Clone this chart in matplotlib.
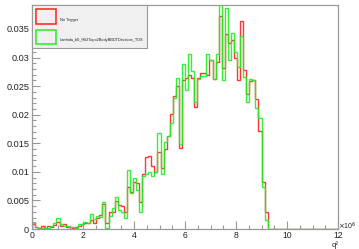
import numpy as np
import matplotlib
matplotlib.use("Agg")
import matplotlib.pyplot as plt
from matplotlib.patches import Rectangle
from matplotlib.ticker import MultipleLocator

# ===============================
# DATA (normalised q^2 distributions, x in units of 1e6)
# ===============================
X_MIN, X_MAX, N_BINS = 0.0, 12.0, 100

# "Lambda_b0_Hlt2Topo2BodyBBDTDecision_TOS" (green), bins 0..76, rest empty
tos_vals = [
    0.0012, 0.0003, 0.0000, 0.0002, 0.0002, 0.0002, 0.0005, 0.0010, 0.0019, 0.0008,
    0.0005, 0.0005, 0.0004, 0.0004, 0.0001, 0.0008, 0.0008, 0.0012, 0.0010, 0.0026,
    0.0017, 0.0023, 0.0021, 0.0048, 0.0002, 0.0022, 0.0037, 0.0056, 0.0033, 0.0030,
    0.0019, 0.0103, 0.0063, 0.0089, 0.0068, 0.0030, 0.0093, 0.0096, 0.0100, 0.0092,
    0.0100, 0.0168, 0.0097, 0.0153, 0.0163, 0.0185, 0.0229, 0.0265, 0.0148, 0.0289,
    0.0243, 0.0307, 0.0277, 0.0223, 0.0263, 0.0268, 0.0268, 0.0307, 0.0296, 0.0263,
    0.0307, 0.0410, 0.0261, 0.0386, 0.0296, 0.0343, 0.0310, 0.0284, 0.0337, 0.0266,
    0.0223, 0.0263, 0.0260, 0.0211, 0.0194, 0.0074, 0.0015,
]

# "No Trigger" (red)
notrig_vals = [
    0.0008, 0.0003, 0.0002, 0.0005, 0.0002, 0.0005, 0.0003, 0.0007, 0.0013, 0.0006,
    0.0009, 0.0004, 0.0004, 0.0002, 0.0003, 0.0006, 0.0008, 0.0011, 0.0011, 0.0016,
    0.0011, 0.0019, 0.0024, 0.0044, 0.0010, 0.0029, 0.0030, 0.0049, 0.0042, 0.0040,
    0.0030, 0.0074, 0.0064, 0.0083, 0.0080, 0.0047, 0.0096, 0.0126, 0.0127, 0.0110,
    0.0100, 0.0135, 0.0106, 0.0140, 0.0163, 0.0201, 0.0232, 0.0250, 0.0142, 0.0261,
    0.0264, 0.0270, 0.0265, 0.0214, 0.0265, 0.0273, 0.0273, 0.0270, 0.0295, 0.0263,
    0.0293, 0.0373, 0.0281, 0.0342, 0.0326, 0.0331, 0.0300, 0.0261, 0.0364, 0.0278,
    0.0237, 0.0259, 0.0260, 0.0227, 0.0172, 0.0083, 0.0030,
]

legend_labels = ["No Trigger", "Lambda_b0_Hlt2Topo2BodyBBDTDecision_TOS"]

y_ticks = [0, 0.005, 0.01, 0.015, 0.02, 0.025, 0.03, 0.035]
y_tick_labels = ["0", "0.005", "0.01", "0.015", "0.02", "0.025", "0.03", "0.035"]
x_ticks = [0, 2, 4, 6, 8, 10, 12]

# ===============================
# PLOT
# ===============================
W, H = 359, 249
plt.rcParams['font.family'] = ['Liberation Sans', 'DejaVu Sans']

fig = plt.figure(figsize=(W / 100, H / 100), dpi=100)
ax = fig.add_axes([32 / W, 1 - 229 / H, 306 / W, 224 / H])

edges = np.linspace(X_MIN, X_MAX, N_BINS + 1)
tos = np.zeros(N_BINS)
tos[:len(tos_vals)] = tos_vals
notrig = np.zeros(N_BINS)
notrig[:len(notrig_vals)] = notrig_vals

ax.stairs(notrig, edges, color='#ff2020', lw=1.0, alpha=0.9)
ax.stairs(tos, edges, color='#22ee22', lw=1.0, alpha=0.9)

ax.set_xlim(X_MIN, X_MAX)
ax.set_ylim(0, 0.0392)

ax.set_yticks(y_ticks)
ax.set_yticklabels(y_tick_labels)
ax.set_xticks(x_ticks)
ax.yaxis.set_minor_locator(MultipleLocator(0.001))
ax.xaxis.set_minor_locator(MultipleLocator(0.5))

for s in ax.spines.values():
    s.set_color('#999999')
    s.set_linewidth(0.9)

ax.tick_params(which='both', direction='in', colors='#999999', labelcolor='#222222',
               top=False, right=False, width=0.8)
ax.tick_params(axis='y', which='major', length=6, labelsize=6.6, pad=2)
ax.tick_params(axis='y', which='minor', length=3)
ax.tick_params(axis='x', which='major', length=6, labelsize=6.2, pad=1.2)
ax.tick_params(axis='x', which='minor', length=3)

fig.text(338 / W, 1 - 226 / H, r"$\times$10$^{6}$", fontsize=5, ha='left', va='center',
         color='#222222')
fig.text(338 / W, 1 - 248.5 / H, "q\u00b2", fontsize=5.5, ha='right', va='bottom',
         color='#222222')

# legend box (ROOT style)
def fig_rect(x0, y0, x1, y1, **kw):
    return Rectangle((x0 / W, 1 - y1 / H), (x1 - x0) / W, (y1 - y0) / H,
                     transform=fig.transFigure, **kw)

fig.add_artist(fig_rect(33, 6, 148, 49, facecolor='#777777', edgecolor='none'))
fig.add_artist(fig_rect(32, 5, 147, 48, facecolor='#f0f0f0', edgecolor='#9a9a9a', lw=0.8))
fig.add_artist(fig_rect(36, 9, 56, 24, facecolor='#f0f0f0', edgecolor='#ff2020', lw=1.1))
fig.add_artist(fig_rect(36, 30, 56, 44, facecolor='#f0f0f0', edgecolor='#22ee22', lw=1.1))
fig.text(60 / W, 1 - 19.5 / H, legend_labels[0], fontsize=2.8, va='center', color='#222222')
fig.text(60 / W, 1 - 40.5 / H, legend_labels[1], fontsize=2.8, va='center', color='#222222')

fig.savefig("out.png", dpi=100)
